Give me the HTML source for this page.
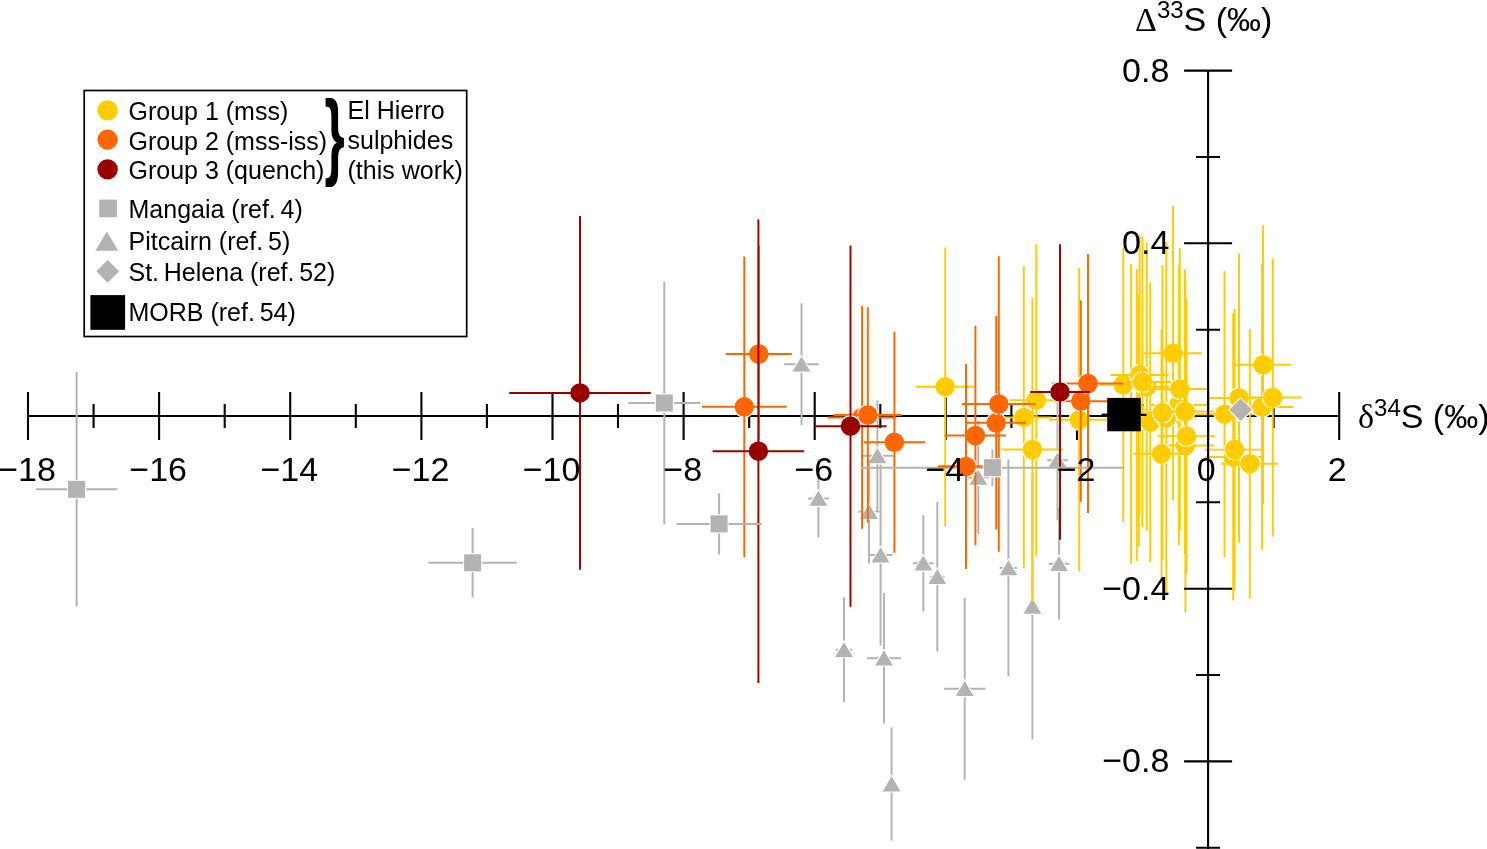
<!DOCTYPE html>
<html lang="en">
<head>
<meta charset="utf-8">
<title>Sulphur isotope plot</title>
<style>
html,body{margin:0;padding:0;background:#fff;}
body{width:1487px;height:849px;overflow:hidden;}
svg{display:block;}
text{font-family:"Liberation Sans",sans-serif;fill:#000;}
.sym{font-family:"Liberation Serif",serif;}
.brace{font-family:"Liberation Sans",sans-serif;font-weight:bold;}
.pts circle,.pts rect,.pts path[fill]{stroke:#fff;stroke-width:2.2;paint-order:stroke;stroke-linejoin:miter;}
</style>
</head>
<body>
<svg width="1487" height="849" viewBox="0 0 1487 849">
<rect width="1487" height="849" fill="#fff"/>
<g fill="none" stroke-linecap="butt">
<path d="M28 416H1339.2M28 392V440M93.6 404V428M159.1 392V440M224.7 404V428M290.2 392V440M355.8 404V428M421.4 392V440M486.9 404V428M552.5 392V440M618 404V428M683.6 392V440M749.2 404V428M814.7 392V440M880.3 404V428M945.8 392V440M1011.4 404V428M1077 392V440M1142.5 404V428M1208.1 392V440M1273.6 404V428M1339.2 392V440" stroke="#000" stroke-width="2.1"/>
</g>
<g fill="none" stroke-width="1.95" class="pts">
<path d="M801.5 303.2V425.2M784.2 364.2H818.8" stroke="#b3b3b3"/>
<path d="M801.5 356.5L810.4 371.6H792.6Z" fill="#b3b3b3"/>
<path d="M818.4 459.3V537.5M807.9 498.4H828.9" stroke="#b3b3b3"/>
<path d="M818.4 490.7L827.3 505.8H809.5Z" fill="#b3b3b3"/>
<path d="M877.4 400.3V511.3M861 455.8H893.8" stroke="#b3b3b3"/>
<path d="M877.4 448.1L886.3 463.2H868.5Z" fill="#b3b3b3"/>
<path d="M869 459.7V563.5M858.2 511.6H879.8" stroke="#b3b3b3"/>
<path d="M869 503.9L877.9 519H860.1Z" fill="#b3b3b3"/>
<path d="M880.6 464.4V645.6M868.8 555H892.4" stroke="#b3b3b3"/>
<path d="M880.6 547.3L889.5 562.4H871.7Z" fill="#b3b3b3"/>
<path d="M923.3 515.3V611.3M913 563.3H933.6" stroke="#b3b3b3"/>
<path d="M923.3 555.6L932.2 570.6H914.4Z" fill="#b3b3b3"/>
<path d="M937.3 502.1V651.5M930.1 576.8H944.5" stroke="#b3b3b3"/>
<path d="M937.3 569.1L946.2 584.1H928.4Z" fill="#b3b3b3"/>
<path d="M978.3 420.9V533.9M968 477.4H988.6" stroke="#b3b3b3"/>
<path d="M978.3 469.7L987.2 484.8H969.4Z" fill="#b3b3b3"/>
<path d="M1008.4 459.5V676.3M999.8 567.9H1017" stroke="#b3b3b3"/>
<path d="M1008.4 560.2L1017.3 575.2H999.5Z" fill="#b3b3b3"/>
<path d="M1057.5 400.2V520.2M1047.2 460.2H1067.8" stroke="#b3b3b3"/>
<path d="M1057.5 452.5L1066.4 467.6H1048.6Z" fill="#b3b3b3"/>
<path d="M1059 507.8V619.8M1048.7 563.8H1069.3" stroke="#b3b3b3"/>
<path d="M1059 556.1L1067.9 571.1H1050.1Z" fill="#b3b3b3"/>
<path d="M1032.4 473.4V739.4" stroke="#b3b3b3"/>
<path d="M1032.4 598.7L1041.3 613.8H1023.5Z" fill="#b3b3b3"/>
<path d="M844 597.3V701.9M835.6 649.6H852.4" stroke="#b3b3b3"/>
<path d="M844 641.9L852.9 657H835.1Z" fill="#b3b3b3"/>
<path d="M884 593.1V723.5M867 658.3H901" stroke="#b3b3b3"/>
<path d="M884 650.6L892.9 665.6H875.1Z" fill="#b3b3b3"/>
<path d="M964.7 597.7V779.7M943.9 688.7H985.5" stroke="#b3b3b3"/>
<path d="M964.7 681L973.6 696.1H955.8Z" fill="#b3b3b3"/>
<path d="M891.6 727.4V840.6" stroke="#b3b3b3"/>
<path d="M891.6 776.3L900.5 791.4H882.7Z" fill="#b3b3b3"/>
<circle cx="945.2" cy="386.7" r="9.75" fill="#ffcc00"/>
<path d="M945.2 247.4V526M915.9 386.7H974.5" stroke="#ffcc00"/>
<circle cx="1023.8" cy="417.4" r="9.75" fill="#ffcc00"/>
<path d="M1023.8 266.3V568.5M995.8 417.4H1051.8" stroke="#ffcc00"/>
<circle cx="1036.3" cy="400.3" r="9.75" fill="#ffcc00"/>
<path d="M1036.3 244V556.6M1009.3 400.3H1063.3" stroke="#ffcc00"/>
<circle cx="1032.4" cy="449.5" r="9.75" fill="#ffcc00"/>
<path d="M1032.4 297.7V601.3M1001.4 449.5H1063.4" stroke="#ffcc00"/>
<circle cx="1079.2" cy="419.8" r="9.75" fill="#ffcc00"/>
<path d="M1079.2 268V571.6M1049.2 419.8H1109.2" stroke="#ffcc00"/>
<circle cx="1131" cy="414" r="9.75" fill="#ffcc00"/>
<path d="M1131 264.1V563.9M1102 414H1160" stroke="#ffcc00"/>
<circle cx="1136.8" cy="415" r="9.75" fill="#ffcc00"/>
<path d="M1136.8 269V561M1107.8 415H1165.8" stroke="#ffcc00"/>
<circle cx="1138.8" cy="420" r="9.75" fill="#ffcc00"/>
<path d="M1138.8 293.4V546.6M1109.8 420H1167.8" stroke="#ffcc00"/>
<circle cx="1123.3" cy="384.8" r="9.75" fill="#ffcc00"/>
<path d="M1123.3 247.6V522M1094.3 384.8H1152.3" stroke="#ffcc00"/>
<circle cx="1146.8" cy="386.7" r="9.75" fill="#ffcc00"/>
<path d="M1146.8 242.6V530.8M1117.8 386.7H1175.8" stroke="#ffcc00"/>
<circle cx="1139.6" cy="375" r="9.75" fill="#ffcc00"/>
<path d="M1139.6 235.3V514.7M1110.5 375H1168.7" stroke="#ffcc00"/>
<circle cx="1142.4" cy="382" r="9.75" fill="#ffcc00"/>
<path d="M1142.4 236.8V527.2M1113.4 382H1171.4" stroke="#ffcc00"/>
<circle cx="1150.2" cy="422.2" r="9.75" fill="#ffcc00"/>
<path d="M1150.2 282.6V561.8M1121.2 422.2H1179.2" stroke="#ffcc00"/>
<circle cx="1173" cy="353.3" r="9.75" fill="#ffcc00"/>
<path d="M1173 206.3V500.3M1143.8 353.3H1202.2" stroke="#ffcc00"/>
<circle cx="1178.9" cy="404.9" r="9.75" fill="#ffcc00"/>
<path d="M1178.9 264.9V544.9M1149.9 404.9H1207.9" stroke="#ffcc00"/>
<circle cx="1179.8" cy="389" r="9.75" fill="#ffcc00"/>
<path d="M1179.8 247.8V530.2M1150.8 389H1208.8" stroke="#ffcc00"/>
<circle cx="1166.3" cy="417.8" r="9.75" fill="#ffcc00"/>
<path d="M1166.3 241.8V593.8M1137.3 417.8H1195.3" stroke="#ffcc00"/>
<circle cx="1162.5" cy="412.6" r="9.75" fill="#ffcc00"/>
<path d="M1162.5 265V560.2M1133.5 412.6H1191.5" stroke="#ffcc00"/>
<circle cx="1185" cy="411.5" r="9.75" fill="#ffcc00"/>
<path d="M1185 269.5V553.5M1156 411.5H1214" stroke="#ffcc00"/>
<circle cx="1185.4" cy="445.5" r="9.75" fill="#ffcc00"/>
<path d="M1185.4 278.6V612.4M1156.4 445.5H1214.4" stroke="#ffcc00"/>
<circle cx="1186.5" cy="436.1" r="9.75" fill="#ffcc00"/>
<path d="M1186.5 298.8V573.4M1157.7 436.1H1215.3" stroke="#ffcc00"/>
<circle cx="1161.5" cy="453.8" r="9.75" fill="#ffcc00"/>
<path d="M1161.5 329.2V578.4M1133 453.8H1190" stroke="#ffcc00"/>
<circle cx="1224.5" cy="414.2" r="9.75" fill="#ffcc00"/>
<path d="M1224.5 271.2V557.2M1195.5 414.2H1253.5" stroke="#ffcc00"/>
<circle cx="1233.2" cy="457" r="9.75" fill="#ffcc00"/>
<path d="M1233.2 313.4V600.6M1205.2 457H1261.2" stroke="#ffcc00"/>
<circle cx="1234.6" cy="449.6" r="9.75" fill="#ffcc00"/>
<path d="M1234.6 308.9V590.3M1204.6 449.6H1264.6" stroke="#ffcc00"/>
<circle cx="1239" cy="398" r="9.75" fill="#ffcc00"/>
<path d="M1239 253.6V542.4M1210 398H1268" stroke="#ffcc00"/>
<circle cx="1249.8" cy="463.7" r="9.75" fill="#ffcc00"/>
<path d="M1249.8 328.9V598.5M1221.3 463.7H1278.3" stroke="#ffcc00"/>
<circle cx="1262" cy="407" r="9.75" fill="#ffcc00"/>
<path d="M1262 264.3V549.7M1231 407H1293" stroke="#ffcc00"/>
<circle cx="1263.1" cy="364.8" r="9.75" fill="#ffcc00"/>
<path d="M1263.1 225.6V504M1235.2 364.8H1291" stroke="#ffcc00"/>
<circle cx="1272.8" cy="397.5" r="9.75" fill="#ffcc00"/>
<path d="M1272.8 258.5V536.5M1244 397.5H1301.6" stroke="#ffcc00"/>
<circle cx="758.8" cy="354" r="9.75" fill="#ff6600"/>
<path d="M758.8 246.1V461.9M725.8 354H791.8" stroke="#ff6600"/>
<circle cx="744.3" cy="406.8" r="9.75" fill="#ff6600"/>
<path d="M744.3 256.4V557.2M701.9 406.8H786.7" stroke="#ff6600"/>
<circle cx="862.1" cy="417.4" r="9.75" fill="#ff6600"/>
<path d="M862.1 306V528.8M827.7 417.4H896.5" stroke="#ff6600"/>
<circle cx="867.8" cy="415" r="9.75" fill="#ff6600"/>
<path d="M867.8 307.2V522.8M833.8 415H901.8" stroke="#ff6600"/>
<circle cx="894.4" cy="442.3" r="9.75" fill="#ff6600"/>
<path d="M894.4 331.9V552.7M863.9 442.3H924.9" stroke="#ff6600"/>
<circle cx="966" cy="466.5" r="9.75" fill="#ff6600"/>
<path d="M966 364.3V568.7M938 466.5H994" stroke="#ff6600"/>
<circle cx="975.4" cy="435.5" r="9.75" fill="#ff6600"/>
<path d="M975.4 325.8V545.2M945 435.5H1005.8" stroke="#ff6600"/>
<circle cx="996.2" cy="422.8" r="9.75" fill="#ff6600"/>
<path d="M996.2 316.1V529.5M966.5 422.8H1025.9" stroke="#ff6600"/>
<circle cx="998.8" cy="404" r="9.75" fill="#ff6600"/>
<path d="M998.8 256.3V551.7M961.8 404H1035.8" stroke="#ff6600"/>
<circle cx="1080.8" cy="401.2" r="9.75" fill="#ff6600"/>
<path d="M1080.8 300.6V501.8M1053.8 401.2H1107.8" stroke="#ff6600"/>
<circle cx="1088" cy="383.5" r="9.75" fill="#ff6600"/>
<path d="M1088 254V513M1052.3 383.5H1123.7" stroke="#ff6600"/>
<circle cx="580" cy="392.9" r="9.75" fill="#990000"/>
<path d="M580 216.1V569.7M509.2 392.9H650.8" stroke="#990000"/>
<circle cx="758.4" cy="451.2" r="9.75" fill="#990000"/>
<path d="M758.4 219.5V682.9M712.6 451.2H804.2" stroke="#990000"/>
<circle cx="850.5" cy="426.2" r="9.75" fill="#990000"/>
<path d="M850.5 245.6V606.8M814.5 426.2H886.5" stroke="#990000"/>
<circle cx="1060" cy="392" r="9.75" fill="#990000"/>
<path d="M1060 244.2V539.8M1030.3 392H1089.7" stroke="#990000"/>
<path d="M76.6 372.1V606.5M35.8 489.3H117.4" stroke="#b3b3b3"/>
<path d="M472.6 528V597.6M428.5 562.8H516.7" stroke="#b3b3b3"/>
<path d="M664.3 281.7V524.3M628.3 403H700.3" stroke="#b3b3b3"/>
<path d="M719.1 493.3V554.5M676.6 523.9H761.6" stroke="#b3b3b3"/>
<path d="M992.4 449.4V486M860.9 467.7H1123.9" stroke="#b3b3b3"/>
<circle cx="966" cy="466.5" r="9.75" fill="#ff6600"/>
<path d="M966 364.3V568.7M938 466.5H994" stroke="#ff6600"/>
<rect x="68.1" y="480.8" width="17.0" height="17.0" fill="#b3b3b3"/>
<rect x="464.1" y="554.3" width="17.0" height="17.0" fill="#b3b3b3"/>
<rect x="655.8" y="394.5" width="17.0" height="17.0" fill="#b3b3b3"/>
<rect x="710.6" y="515.4" width="17.0" height="17.0" fill="#b3b3b3"/>
<rect x="983.9" y="459.2" width="17.0" height="17.0" fill="#b3b3b3"/>
<path d="M1240.6 398.5L1251.9 409.8L1240.6 421.1L1229.3 409.8Z" fill="#b3b3b3"/>
</g>
<path d="M1101.6 414.9H1146.6" stroke="#000" stroke-width="2.1"/>
<rect x="1107.2" y="397.9" width="33.6" height="33.4" fill="#000"/>
<g fill="none">
<path d="M1208.1 70.6V851M1196.1 847.7H1220.1M1184.1 761.4H1232.1M1196.1 675H1220.1M1184.1 588.7H1232.1M1196.1 502.3H1220.1M1196.1 329.7H1220.1M1184.1 243.3H1232.1M1196.1 157H1220.1M1184.1 70.6H1232.1" stroke="#000" stroke-width="2.1"/>
</g>
<g class="ax" font-size="34" text-anchor="middle">
<text x="27.1" y="480.5">−18</text>
<text x="158.2" y="480.5">−16</text>
<text x="289.3" y="480.5">−14</text>
<text x="420.5" y="480.5">−12</text>
<text x="551.6" y="480.5">−10</text>
<text x="682.7" y="480.5">−8</text>
<text x="813.8" y="480.5">−6</text>
<text x="944.9" y="480.5">−4</text>
<text x="1076.1" y="480.5">−2</text>
<text x="1206.2" y="480.5">0</text>
<text x="1337.3" y="480.5">2</text>
</g>
<g class="ax" font-size="34" text-anchor="end">
<text x="1169.3" y="81.6">0.8</text>
<text x="1169.3" y="254.3">0.4</text>
<text x="1169.3" y="599.7">−0.4</text>
<text x="1169.3" y="772.4">−0.8</text>
</g>
<text class="ax" font-size="34" x="1135" y="30.7"><tspan class="sym">Δ</tspan><tspan font-size="24" dy="-13">33</tspan><tspan dy="13">S (‰)</tspan></text>
<text class="ax" font-size="34" x="1358" y="428"><tspan class="sym">δ</tspan><tspan font-size="24" dy="-12.2">34</tspan><tspan dy="12.2">S (‰)</tspan></text>
<rect x="84.2" y="90.5" width="382.5" height="246" fill="#fff" stroke="#000" stroke-width="1.7"/>
<circle cx="107.6" cy="110.4" r="10.2" fill="#ffcc00"/>
<circle cx="107.6" cy="139.6" r="10.2" fill="#ff6600"/>
<circle cx="107.6" cy="169.4" r="10.2" fill="#990000"/>
<rect x="99.2" y="199.6" width="17.7" height="17.7" fill="#b3b3b3"/>
<path d="M106.8 231.5L118.3 250.7H95.4Z" fill="#b3b3b3"/>
<path d="M107.7 259.9L119.1 271.3L107.7 282.7L96.3 271.3Z" fill="#b3b3b3"/>
<rect x="90.4" y="295.1" width="34.7" height="34.7" fill="#000"/>
<g class="lg" font-size="25">
<text x="128.5" y="120.3">Group 1 (mss)</text>
<text x="128.5" y="149.5">Group 2 (mss-iss)</text>
<text x="128.5" y="179">Group 3 (quench)</text>
<text x="128.5" y="217.9">Mangaia (ref. <tspan dx="-2.2">4)</tspan></text>
<text x="128.5" y="250.4">Pitcairn (ref. <tspan dx="-2.2">5)</tspan></text>
<text x="128.5" y="281.2">St. <tspan dx="-2.2">Helena (ref. </tspan><tspan dx="-2.2">52)</tspan></text>
<text x="128.5" y="321">MORB (ref. <tspan dx="-2.2">54)</tspan></text>
<text x="347.5" y="118.9">El Hierro</text>
<text x="347.5" y="148.6">sulphides</text>
<text x="347.5" y="179">(this work)</text>
</g>
<text class="brace" x="0" y="0" transform="translate(324.5 166.8) scale(1 1.82)" font-size="52">}</text>
</svg>
</body>
</html>
